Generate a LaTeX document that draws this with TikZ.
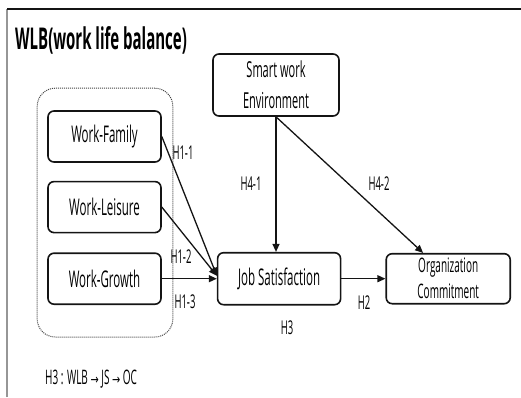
\documentclass[tikz,border=0pt]{standalone}
\usepackage{fontspec}
\setmainfont{Open Sans}[FakeStretch=0.5]
\newfontfamily\arrowfont{DejaVu Sans}[FakeStretch=0.7]
\usepackage{xcolor}
\definecolor{wlbline}{RGB}{20,20,20}
\definecolor{wlbgray}{RGB}{150,150,150}
\usepackage{tikz}
\usetikzlibrary{arrows.meta,positioning,fit,calc}
\newcommand{\wlbto}{{\arrowfont\fontsize{14}{20}\selectfont →}}
\tikzset{
  box/.style={draw=wlbline,line width=1.6pt,rounded corners=6pt,align=center,inner sep=2pt,
    minimum width=113pt,minimum height=51pt,font=\fontsize{23}{30}\selectfont},
  grp/.style={draw=wlbline!80,densely dotted,line width=1pt,rounded corners=18pt,inner sep=0pt},
  hyp/.style={font=\fontsize{19}{20}\selectfont,inner sep=0pt},
  flow/.style={-{Triangle[length=8pt,width=7pt]},draw=wlbline,line width=1.3pt},
}

\begin{document}
\begin{tikzpicture}[x=1pt,y=1pt]
\useasboundingbox (0,0) rectangle (521,397);
% frame
\draw[wlbgray,line width=1.5pt] (7,0) -- (7,388);
\draw[wlbline,line width=1.5pt] (7,388) -- (521,388);
\node[anchor=west,inner sep=0pt,font=\bfseries\fontsize{30}{32}\selectfont] (title) at (15,357) {WLB(work life balance)};
% WLB boxes
\node[box] (wf) at (104.5,260.5) {Work-Family};
\node[box,below=18pt of wf] (wl) {Work-Leisure};
\node[box,below=19pt of wl] (wg) {Work-Growth};
\node[grp,fit={($(wf.north west)+(-10,22)$) ($(wg.south east)+(11,-32)$)}] (wlb) {};
% outcomes
\node[box,right=55pt of wg,minimum width=123pt,minimum height=52pt] (js) {Job Satisfaction};
\node[box,right=44pt of js,minimum width=124pt,minimum height=50pt,
  font=\fontsize{20}{30}\selectfont] (oc) {Organization\\[-4pt]Commitment};
\node[box,minimum width=126pt,minimum height=62pt,
  font=\fontsize{22}{31}\selectfont] (swe) at (276,312) {Smart work\\Environment};
\coordinate (jsin) at ($(js.west)+(0,3)$);
% flows
\draw[flow] (wf.east) -- (jsin);
\draw[flow] (wl.east) -- (jsin);
\draw[flow] (wg.east) -- (js.west);
\draw[flow] (js.east) -- (oc.west);
\draw[flow] (swe.south) -- (swe.south |- js.north);
\draw[flow] (swe.south) -- ($(oc.north west)!0.3!(oc.north east)$);
% labels
\node[hyp] (h11) at (183,244) {H1-1};
\node[hyp] (h12) at (181,140) {H1-2};
\node[hyp] (h13) at (185,95) {H1-3};
\node[hyp] (h41) at (251,213) {H4-1};
\node[hyp] (h42) at (379,213) {H4-2};
\node[hyp] (h2) at (364,94) {H2};
\node[hyp] (h3) at (287,69) {H3};
\node[hyp,anchor=west,font=\fontsize{20}{22}\selectfont] (path) at (45,18) {H3 : WLB \wlbto{} JS \wlbto{} OC};
\end{tikzpicture}
\end{document}
